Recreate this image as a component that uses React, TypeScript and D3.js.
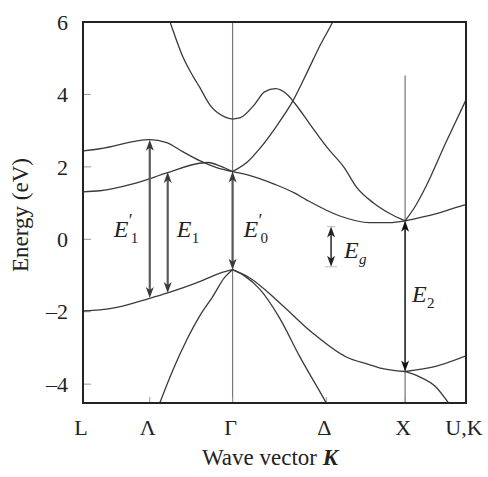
import React from 'react';
import * as d3 from 'd3';

const W = 488;
const H = 477;

// High-symmetry points along the path L – Γ – X – U,K (k in units of 2π/a, Γ at 0)
const kPointLabels = ['L', 'Λ', 'Γ', 'Δ', 'X', 'U,K'];
const kPoints = [-0.867, -0.48, 0, 0.543, 1, 1.353];

// Energy axis ticks (eV)
const energyTicks = [-4, -2, 0, 2, 4, 6];
const energyTickLabels = ['–4', '–2', '0', '2', '4', '6'];

// Valence bands, [k, E]
const valenceLG_heavy: [number, number][] = [
  [-0.867, -1.98], [-0.769, -1.95], [-0.671, -1.88], [-0.48, -1.63], [-0.376, -1.48],
  [-0.191, -1.17], [-0.075, -0.94], [0, -0.84],
];
const valenceLG_light: [number, number][] = [
  [0, -0.84], [-0.046, -1.05], [-0.116, -1.59], [-0.191, -2.12], [-0.266, -2.78],
  [-0.347, -3.62], [-0.422, -4.52], [-0.46, -5.0],
];
const valenceGX_light: [number, number][] = [
  [0, -0.84], [0.069, -1.01], [0.156, -1.37], [0.272, -2.17], [0.387, -3.22],
  [0.543, -4.52], [0.58, -4.85],
];
const valenceGX_heavy: [number, number][] = [
  [0, -0.84], [0.098, -1.06], [0.272, -1.75], [0.462, -2.58], [0.659, -3.25],
  [0.792, -3.46], [0.85, -3.55], [1, -3.65],
];
const valenceXU_up: [number, number][] = [[1, -3.65], [1.177, -3.51], [1.353, -3.22]];
const valenceXU_down: [number, number][] = [
  [1, -3.65], [1.081, -3.79], [1.177, -4.07], [1.254, -4.53], [1.29, -4.75],
];

// Conduction bands, [k, E]
const conductionLG_lower: [number, number][] = [
  [-0.867, 1.31], [-0.769, 1.34], [-0.578, 1.53], [-0.376, 1.84], [-0.191, 2.1],
  [-0.14, 2.12], [-0.07, 2.02], [0, 1.87],
];
const conductionLG_upper: [number, number][] = [
  [-0.867, 2.44], [-0.769, 2.5], [-0.48, 2.75], [-0.382, 2.67], [-0.289, 2.42],
  [-0.191, 2.17], [-0.092, 1.98], [0, 1.87],
];
const conductionLG_high: [number, number][] = [
  [0, 3.32], [-0.046, 3.38], [-0.133, 3.72], [-0.191, 4.2], [-0.229, 4.5],
  [-0.289, 5.05], [-0.364, 6.02], [-0.4, 6.5],
];
const conductionGX_lower: [number, number][] = [
  [0, 1.87], [0.087, 1.78], [0.249, 1.51], [0.358, 1.28], [0.428, 1.09],
  [0.618, 0.65], [0.792, 0.46], [0.908, 0.46], [1, 0.51],
];
const conductionGX_steep: [number, number][] = [
  [0, 1.87], [0.087, 2.14], [0.162, 2.53], [0.26, 3.16], [0.347, 3.8],
  [0.434, 4.63], [0.509, 5.37], [0.578, 5.98], [0.62, 6.4],
];
const conductionGX_hump: [number, number][] = [
  [0, 3.32], [0.046, 3.36], [0.127, 3.72], [0.185, 4.07], [0.249, 4.16],
  [0.318, 3.99], [0.358, 3.77], [0.451, 3.16], [0.549, 2.53], [0.647, 1.98],
  [0.717, 1.45], [0.815, 1.01], [0.908, 0.72], [1, 0.51],
];
const conductionXU_steep: [number, number][] = [
  [1, 0.51], [1.06, 0.92], [1.12, 1.45], [1.237, 2.68], [1.353, 3.85],
];
const conductionXU_flat: [number, number][] = [
  [1, 0.51], [1.177, 0.7], [1.331, 0.93], [1.353, 0.96],
];

const bands = [
  valenceLG_heavy, valenceLG_light, valenceGX_light, valenceGX_heavy, valenceXU_up, valenceXU_down,
  conductionLG_lower, conductionLG_upper, conductionLG_high, conductionGX_lower,
  conductionGX_steep, conductionGX_hump, conductionXU_steep, conductionXU_flat,
];

// Optical transitions: name, k, lower energy, upper energy
const transitionNames = ['E1p', 'E1', 'E0p', 'Eg', 'E2'];
const transitionK = [-0.48, -0.376, 0, 0.571, 1];
const transitionFrom = [-1.62, -1.48, -0.84, -0.76, -3.65];
const transitionTo = [2.75, 1.86, 1.87, 0.35, 0.51];
const transitionSub = ['1', '1', '0', 'g', '2'];
const transitionPrime = [true, false, true, false, false];

// Top of the vertical marker line at X (eV)
const xMarkerTop = 4.52;

const SERIF = "'Liberation Serif', 'Times New Roman', 'DejaVu Serif', serif";

export default function App() {
  const left = 83;
  const right = 466;
  const top = 22;
  const bottom = 403;

  const x = d3.scaleLinear().domain([-0.867, 1.353]).range([left, right]);
  const y = d3.scaleLinear().domain([-4.52, 6]).range([bottom, top]);

  const line = d3
    .line<[number, number]>()
    .x((d) => x(d[0]))
    .y((d) => y(d[1]))
    .curve(d3.curveMonotoneX);

  const bandPaths = bands.map((b) => line([...b].sort((a, c) => a[0] - c[0])) || '');

  const arrowStyle: Record<string, { stroke: string; width: number; head: string }> = {
    E1p: { stroke: '#5a5a5a', width: 2.2, head: '#3a3a3a' },
    E1: { stroke: '#5a5a5a', width: 2.2, head: '#3a3a3a' },
    E0p: { stroke: '#5a5a5a', width: 2.2, head: '#3a3a3a' },
    Eg: { stroke: '#333', width: 1.6, head: '#222' },
    E2: { stroke: '#222', width: 1.4, head: '#111' },
  };

  // label placement relative to each arrow: horizontal offset and baseline
  const labelDx = [-36, 9, 11, 13, 7];
  const labelBaseline = [237, 237, 237, 258, 302];

  const head = (cx: number, tipY: number, dir: 1 | -1, fill: string, key: string) => {
    // dir = -1 : pointing up, tip at tipY; dir = 1 : pointing down
    const len = 11;
    const hw = 4;
    const baseY = tipY - dir * len;
    return (
      <path
        key={key}
        d={`M${cx},${tipY} L${cx - hw},${baseY} L${cx},${baseY + dir * 3} L${cx + hw},${baseY} Z`}
        fill={fill}
      />
    );
  };

  const eWidth = 15;

  return (
    <svg
      width={W}
      height={H}
      viewBox={`0 0 ${W} ${H}`}
      style={{ position: 'absolute', left: 0, top: 0, background: '#fff' }}
    >
      <defs>
        <clipPath id="frame-clip">
          <rect x={left} y={top} width={right - left} height={bottom - top} />
        </clipPath>
      </defs>

      {/* Γ and X reference lines */}
      <line x1={x(0)} x2={x(0)} y1={top} y2={bottom} stroke="#777" strokeWidth={1.2} />
      <line x1={x(1)} x2={x(1)} y1={y(xMarkerTop)} y2={bottom} stroke="#666" strokeWidth={1.1} />

      {/* inward ticks */}
      {energyTicks
        .filter((t) => t < 6)
        .map((t) => (
          <line key={`yt${t}`} x1={left} x2={left + 8} y1={y(t)} y2={y(t)} stroke="#999" strokeWidth={1} />
        ))}
      {kPoints.slice(1, 5).map((k, i) => (
        <line key={`xt${i}`} x1={x(k)} x2={x(k)} y1={bottom} y2={bottom - 6} stroke="#999" strokeWidth={1} />
      ))}

      {/* bands */}
      <g clipPath="url(#frame-clip)">
        {bandPaths.map((d, i) => (
          <path key={i} d={d} fill="none" stroke="#3a3a3a" strokeWidth={1.3} />
        ))}
      </g>

      {/* transition arrows */}
      {transitionNames.map((name, i) => {
        const cx = x(transitionK[i]);
        const yTop = y(transitionTo[i]);
        const yBot = y(transitionFrom[i]);
        const s = arrowStyle[name];
        return (
          <g key={name}>
            <line x1={cx} x2={cx} y1={yTop + 4} y2={yBot - 4} stroke={s.stroke} strokeWidth={s.width} />
            {head(cx, yTop, -1, s.head, name + 't')}
            {head(cx, yBot, 1, s.head, name + 'b')}
            {name === 'Eg' ? (
              <g stroke="#bbb" strokeWidth={1}>
                <line x1={cx - 4} x2={cx + 4} y1={yTop} y2={yTop} />
                <line x1={cx - 6} x2={cx + 6} y1={yBot} y2={yBot} />
              </g>
            ) : null}
          </g>
        );
      })}

      {/* transition labels: E, optional prime, subscript */}
      {transitionNames.map((name, i) => {
        const lx = x(transitionK[i]) + labelDx[i];
        const by = labelBaseline[i];
        const prime = transitionPrime[i];
        return (
          <g key={`lab${name}`} fill="#222" fontFamily={SERIF}>
            <text x={lx} y={by} fontSize={24} fontStyle="italic">
              E
            </text>
            {prime ? (
              <text x={lx + eWidth} y={by - 10} fontSize={18}>
                ′
              </text>
            ) : null}
            <text
              x={lx + eWidth + (prime ? 2 : 0)}
              y={by + 6}
              fontSize={15}
              fontStyle={transitionSub[i] === 'g' ? 'italic' : 'normal'}
            >
              {transitionSub[i]}
            </text>
          </g>
        );
      })}

      {/* frame */}
      <rect x={left} y={top} width={right - left} height={bottom - top} fill="none" stroke="#222" strokeWidth={2} />

      {/* energy tick labels */}
      {energyTicks.map((t, i) => (
        <text
          key={`yl${t}`}
          x={68}
          y={y(t)}
          dy="0.35em"
          textAnchor="end"
          fontFamily={SERIF}
          fontSize={22}
          fill="#222"
        >
          {energyTickLabels[i]}
        </text>
      ))}

      {/* k-point labels */}
      {kPoints.map((k, i) => (
        <text
          key={`xl${i}`}
          x={x(k) - 2}
          y={435}
          textAnchor="middle"
          fontFamily={SERIF}
          fontSize={22}
          fill="#222"
        >
          {kPointLabels[i]}
        </text>
      ))}

      {/* axis titles */}
      <text
        transform="translate(28,215) rotate(-90)"
        textAnchor="middle"
        fontFamily={SERIF}
        fontSize={23}
        fill="#222"
      >
        Energy (eV)
      </text>
      <text x={270} y={465} textAnchor="middle" fontFamily={SERIF} fontSize={23} fill="#222">
        Wave vector{' '}
        <tspan fontWeight="bold" fontStyle="italic">
          K
        </tspan>
      </text>
    </svg>
  );
}
